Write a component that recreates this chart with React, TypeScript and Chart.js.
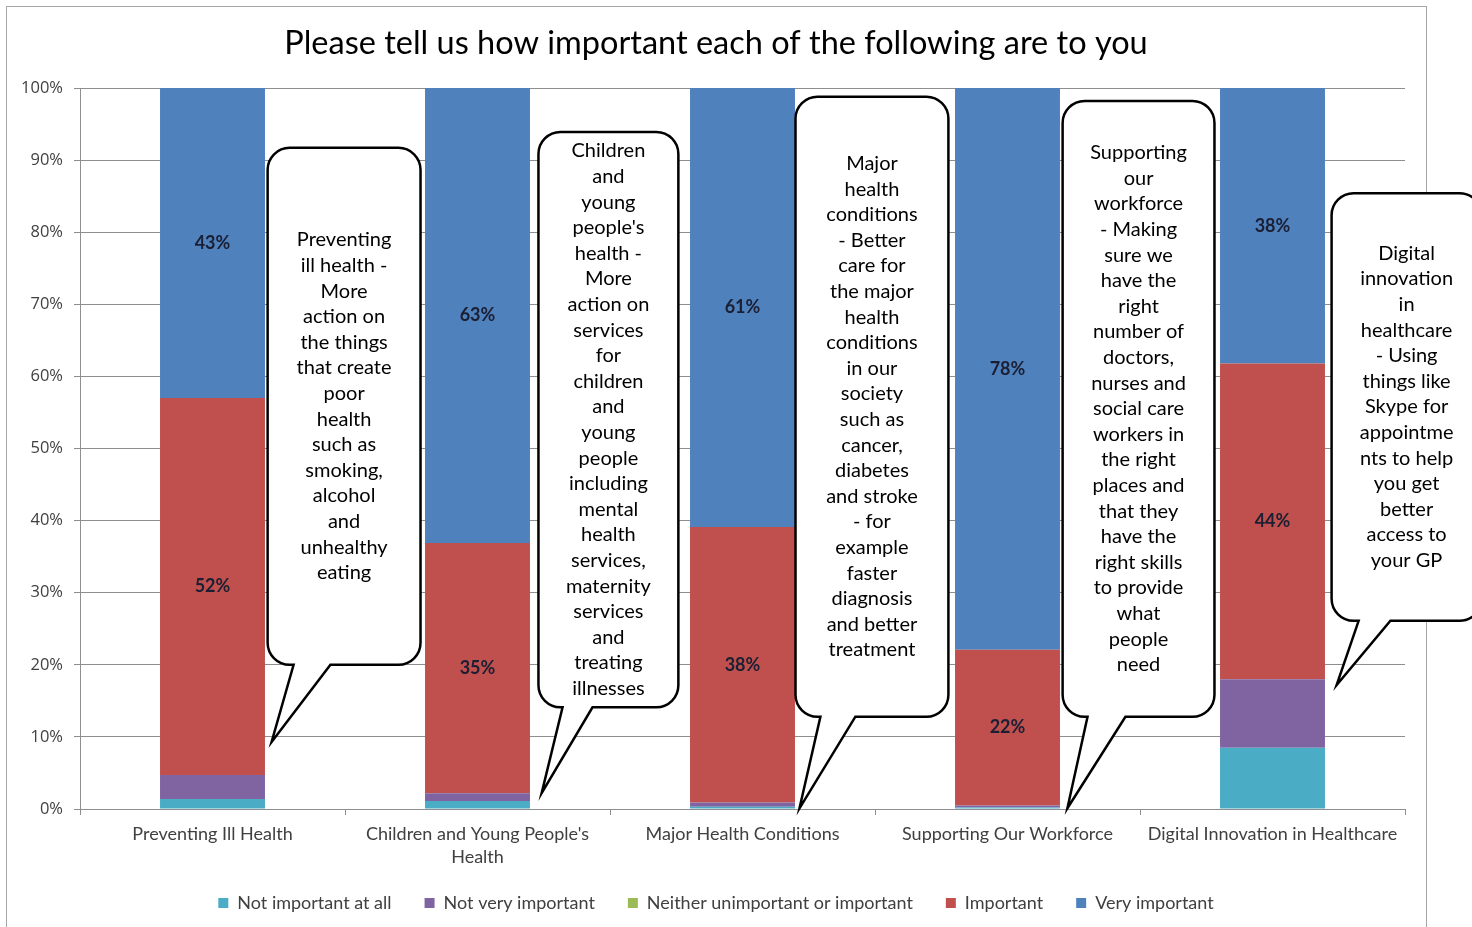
import React, { useEffect, useRef } from 'react';
import { Chart, registerables } from 'chart.js';

Chart.register(...registerables);

// ---------- data ----------
const categories: string[][] = [
  ['Preventing Ill Health'],
  ["Children and Young People's", 'Health'],
  ['Major Health Conditions'],
  ['Supporting Our Workforce'],
  ['Digital Innovation in Healthcare'],
];

const seriesNames = [
  'Not important at all',
  'Not very important',
  'Neither unimportant or important',
  'Important',
  'Very important',
];

const notImportantAtAll = [1.4, 1.1, 0.3, 0.2, 8.5];
const notVeryImportant = [3.3, 1.1, 0.6, 0.3, 9.5];
const neitherImportant = [0, 0, 0, 0, 0];
const important = [52.3, 34.7, 38.2, 21.6, 43.8];
const veryImportant = [43.0, 63.1, 60.9, 77.9, 38.2];

const yTicks = [0, 10, 20, 30, 40, 50, 60, 70, 80, 90, 100];

const calloutTexts: string[][] = [
  ['Preventing', 'ill health -', 'More', 'action on', 'the things', 'that create', 'poor', 'health', 'such as', 'smoking,', 'alcohol', 'and', 'unhealthy', 'eating'],
  ['Children', 'and', 'young', "people's", 'health -', 'More', 'action on', 'services', 'for', 'children', 'and', 'young', 'people', 'including', 'mental', 'health', 'services,', 'maternity', 'services', 'and', 'treating', 'illnesses'],
  ['Major', 'health', 'conditions', '- Better', 'care for', 'the major', 'health', 'conditions', 'in our', 'society', 'such as', 'cancer,', 'diabetes', 'and stroke', '- for', 'example', 'faster', 'diagnosis', 'and better', 'treatment'],
  ['Supporting', 'our', 'workforce', '- Making', 'sure we', 'have the', 'right', 'number of', 'doctors,', 'nurses and', 'social care', 'workers in', 'the right', 'places and', 'that they', 'have the', 'right skills', 'to provide', 'what', 'people', 'need'],
  ['Digital', 'innovation', 'in', 'healthcare', '- Using', 'things like', 'Skype for', 'appointme', 'nts to help', 'you get', 'better', 'access to', 'your GP'],
];

// callout geometry: x in category-width offsets from the bar centre, y in axis %
const calloutGeom = [
  { left: 0.208, right: 0.785, top: 91.7, bottom: 20.0, baseL: 0.306, baseR: 0.445, tipX: 0.223, tipY: 9.3 },
  { left: 0.230, right: 0.758, top: 93.9, bottom: 14.1, baseL: 0.321, baseR: 0.434, tipX: 0.242, tipY: 2.2 },
  { left: 0.200, right: 0.777, top: 98.8, bottom: 12.8, baseL: 0.294, baseR: 0.426, tipX: 0.215, tipY: 0.1 },
  { left: 0.208, right: 0.781, top: 98.2, bottom: 12.8, baseL: 0.302, baseR: 0.445, tipX: 0.226, tipY: 0.1 },
  { left: 0.223, right: 0.789, top: 85.4, bottom: 26.1, baseL: 0.325, baseR: 0.445, tipX: 0.242, tipY: 17.2 },
];

const colors = ['#4BACC6', '#8064A2', '#9BBB59', '#C0504D', '#4F81BD'];

const borderPlugin = {
  id: 'outerBorder',
  beforeDraw(chart: any) {
    const ctx = chart.ctx;
    ctx.save();
    ctx.strokeStyle = '#a6a6a6';
    ctx.lineWidth = 1;
    ctx.strokeRect(6.5, 6.5, 1420, 950);
    ctx.restore();
    // let tick labels draw past their axis boxes
    const xs = chart.scales.x;
    const ys = chart.scales.y;
    if (xs) xs._computeLabelArea = () => undefined;
    if (ys) ys._computeLabelArea = () => undefined;
  },
};

const dataLabelPlugin = {
  id: 'segLabels',
  afterDatasetsDraw(chart: any) {
    const ctx = chart.ctx;
    ctx.save();
    ctx.font = 'bold 18px Lato';
    ctx.fillStyle = '#1b1f33';
    ctx.textAlign = 'center';
    ctx.textBaseline = 'middle';
    [3, 4].forEach((di) => {
      const meta = chart.getDatasetMeta(di);
      const vals = chart.data.datasets[di].data as number[];
      meta.data.forEach((bar: any, i: number) => {
        const v = vals[i];
        if (v < 5) return;
        ctx.fillText(Math.round(v) + '%', bar.x, (bar.y + bar.base) / 2);
      });
    });
    ctx.restore();
  },
};

const calloutPlugin = {
  id: 'callouts',
  afterDraw(chart: any) {
    const ctx = chart.ctx;
    const xs = chart.scales.x;
    const ys = chart.scales.y;
    const catW = xs.getPixelForValue(1) - xs.getPixelForValue(0);
    ctx.save();
    calloutGeom.forEach((g, i) => {
      const cx = xs.getPixelForValue(i);
      const L = cx + g.left * catW;
      const R = cx + g.right * catW;
      const T = ys.getPixelForValue(g.top);
      const B = ys.getPixelForValue(g.bottom);
      const bL = cx + g.baseL * catW;
      const bR = cx + g.baseR * catW;
      const tx = cx + g.tipX * catW;
      const ty = ys.getPixelForValue(g.tipY);
      const r = 22;
      ctx.beginPath();
      ctx.moveTo(L + r, T);
      ctx.lineTo(R - r, T);
      ctx.arcTo(R, T, R, T + r, r);
      ctx.lineTo(R, B - r);
      ctx.arcTo(R, B, R - r, B, r);
      ctx.lineTo(bR, B);
      ctx.lineTo(tx, ty);
      ctx.lineTo(bL, B);
      ctx.lineTo(L + r, B);
      ctx.arcTo(L, B, L, B - r, r);
      ctx.lineTo(L, T + r);
      ctx.arcTo(L, T, L + r, T, r);
      ctx.closePath();
      ctx.fillStyle = '#ffffff';
      ctx.fill();
      ctx.lineWidth = 2.5;
      ctx.strokeStyle = '#000000';
      ctx.lineJoin = 'miter';
      ctx.stroke();

      const lines = calloutTexts[i];
      const lh = 25.6;
      const midX = (L + R) / 2;
      const midY = (T + B) / 2;
      ctx.font = '20px Lato';
      ctx.fillStyle = '#000000';
      ctx.textAlign = 'center';
      ctx.textBaseline = 'middle';
      lines.forEach((ln, k) => {
        ctx.fillText(ln, midX, midY + (k - (lines.length - 1) / 2) * lh);
      });
    });
    ctx.restore();
  },
};

export default function App() {
  const canvasRef = useRef<HTMLCanvasElement | null>(null);

  useEffect(() => {
    if (!canvasRef.current) return;
    const seriesData = [notImportantAtAll, notVeryImportant, neitherImportant, important, veryImportant];
    const chart = new Chart(canvasRef.current, {
      type: 'bar',
      data: {
        labels: categories as any,
        datasets: seriesData.map((d, i) => ({
          label: seriesNames[i],
          data: d,
          backgroundColor: colors[i],
          borderWidth: 0,
          barPercentage: 0.99,
          categoryPercentage: 0.4,
        })),
      },
      options: {
        animation: false,
        responsive: true,
        maintainAspectRatio: false,
        layout: { padding: { top: 10, left: 27, right: 67, bottom: 5 } },
        plugins: {
          title: {
            display: true,
            text: 'Please tell us how important each of the following are to you',
            font: { family: 'Lato', size: 32.5, weight: 'normal' },
            color: '#000000',
            padding: { top: 14, bottom: 25 },
          },
          legend: {
            position: 'bottom',
            fullSize: true,
            labels: {
              boxWidth: 10,
              boxHeight: 10,
              padding: 33,
              color: '#404040',
              font: { family: 'Lato', size: 18 },
            },
          },
          tooltip: { enabled: false },
        },
        scales: {
          x: {
            stacked: true,
            offset: true,
            grid: {
              display: true,
              offset: true,
              drawOnChartArea: false,
              drawTicks: true,
              tickLength: 6,
              color: '#8e8e8e',
            },
            border: { display: true, color: '#8e8e8e' },
            ticks: {
              color: '#404040',
              font: { family: 'Lato', size: 18, lineHeight: 1.3 },
              padding: 7,
              maxRotation: 0,
              autoSkip: false,
            },
            afterFit(scale: any) {
              scale.height = 52;
            },
          },
          y: {
            stacked: true,
            min: 0,
            max: 100,
            afterBuildTicks(scale: any) {
              scale.ticks = yTicks.map((v) => ({ value: v }));
            },
            grid: {
              color: '#8e8e8e',
              tickLength: 6,
            },
            border: { display: true, color: '#8e8e8e' },
            ticks: {
              color: '#404040',
              font: { family: 'Open Sans', size: 16.5 },
              padding: 11,
              callback: (v: any) => v + '%',
            },
            afterFit(scale: any) {
              scale.width = 53;
            },
          },
        },
      },
      plugins: [borderPlugin, dataLabelPlugin, calloutPlugin],
    });
    return () => chart.destroy();
  }, []);

  return (
    <div style={{ position: 'absolute', left: 0, top: 0, width: 1472, height: 927, background: '#ffffff' }}>
      <canvas ref={canvasRef} />
    </div>
  );
}
